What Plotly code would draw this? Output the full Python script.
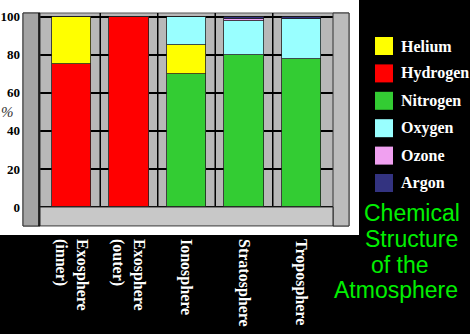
import plotly.graph_objects as go

# ---- data ----
categories = ["Exosphere<br>(inner)", "Exosphere<br>(outer)", "Ionosphere", "Stratosphere", "Troposphere"]
hydrogen = [75, 100, 0, 0, 0]
nitrogen = [0, 0, 70, 80, 78]
helium = [25, 0, 15, 0, 0]
oxygen = [0, 0, 15, 18, 21]
ozone = [0, 0, 0, 1, 0]
argon = [0, 0, 0, 1, 1]
y_ticks = [0, 20, 40, 60, 80, 100]
legend_names = ["Helium", "Hydrogen", "Nitrogen", "Oxygen", "Ozone", "Argon"]
title_lines = ["Chemical", "Structure", "of the", "Atmosphere"]

colors = {
    "Helium": "#ffff00",
    "Hydrogen": "#ff0000",
    "Nitrogen": "#33cc33",
    "Oxygen": "#99ffff",
    "Ozone": "#f0a0f0",
    "Argon": "#333380",
}

# ---- geometry helpers (pixel -> paper) ----
W, H = 470, 334
L, R, T, B = 23, 349, 13, 226


def px(x):
    return (x - L) / (R - L)


def py(y):
    return (B - y) / (B - T)


fig = go.Figure()
stack = [("Hydrogen", hydrogen), ("Nitrogen", nitrogen), ("Helium", helium),
         ("Oxygen", oxygen), ("Ozone", ozone), ("Argon", argon)]
for name, vals in stack:
    fig.add_trace(go.Bar(
        x=categories, y=vals, name=name,
        marker=dict(color=colors[name], line=dict(color="#202020", width=0.8)),
        width=0.68, showlegend=False,
    ))

shapes = [
    # black regions outside the white panel
    dict(type="rect", xref="paper", yref="paper", x0=px(359), x1=px(W + 5), y0=py(H + 5), y1=py(-5),
         fillcolor="black", line_width=0, layer="below"),
    dict(type="rect", xref="paper", yref="paper", x0=px(-5), x1=px(W + 5), y0=py(H + 5), y1=py(235),
         fillcolor="black", line_width=0, layer="below"),
    # back wall
    dict(type="rect", xref="paper", yref="paper", x0=0, x1=1, y0=0, y1=1,
         fillcolor="#b8b8b8", line=dict(color="#555555", width=1), layer="below"),
]
# category dividers on the back wall
for i in range(len(categories) - 1):
    shapes.append(dict(type="line", xref="x", yref="y", x0=i + 0.5, x1=i + 0.5, y0=0, y1=102,
                       line=dict(color="black", width=1.5), layer="below"))
shapes += [
    # left wall
    dict(type="rect", xref="paper", yref="paper", x0=0, x1=px(40), y0=0, y1=1,
         fillcolor="#a4a4a4", line=dict(color="#333333", width=1), layer="above"),
    dict(type="line", xref="paper", yref="y", x0=px(39), x1=px(39), y0=-10, y1=102,
         line=dict(color="black", width=1.5), layer="above"),
    # right wall
    dict(type="rect", xref="paper", yref="paper", x0=px(333), x1=1, y0=0, y1=1,
         fillcolor="#bcbcbc", line=dict(color="#333333", width=1), layer="above"),
    # floor
    dict(type="rect", xref="paper", yref="y", x0=px(40), x1=px(333), y0=-10, y1=0,
         fillcolor="#c8c8c8", line=dict(color="#222222", width=1), layer="above"),
]

annotations = []
# custom legend
for i, name in enumerate(legend_names):
    yc = 46 + i * 27.4
    shapes.append(dict(type="rect", xref="paper", yref="paper",
                       x0=px(375), x1=px(393), y0=py(yc + 9), y1=py(yc - 9),
                       fillcolor=colors[name], line_width=0))
    annotations.append(dict(x=px(399), y=py(yc), xref="paper", yref="paper", text=name,
                            showarrow=False, xanchor="left", yanchor="middle",
                            font=dict(family="Liberation Serif", size=16, color="white", weight="bold")))

# title lines
title_pos = [(412, 213), (411, 239), (400, 265), (396, 290)]
for line, (xc, yc) in zip(title_lines, title_pos):
    annotations.append(dict(x=px(xc), y=py(yc), xref="paper", yref="paper", text=line,
                            showarrow=False, xanchor="center", yanchor="middle",
                            font=dict(family="Liberation Sans", size=23, color="#00f000")))

# y-axis "%" label
annotations.append(dict(x=px(0), y=py(112), xref="paper", yref="paper", text="%",
                        showarrow=False, xanchor="left", yanchor="middle", borderpad=0,
                        font=dict(family="Liberation Serif", size=15, color="#333333", style="italic")))

fig.update_layout(
    width=W, height=H,
    margin=dict(l=L, r=W - R, t=T, b=H - B, autoexpand=False),
    paper_bgcolor="white",
    plot_bgcolor="rgba(0,0,0,0)",
    barmode="stack",
    bargap=0,
    shapes=shapes,
    annotations=annotations,
    xaxis=dict(
        range=[-0.843, 4.826], showgrid=False, automargin=False,
        ticks="", tickangle=90, ticklabelstandoff=12,
        tickfont=dict(family="Liberation Serif", size=16, color="white", weight="bold"),
        showline=False, zeroline=False,
    ),
    yaxis=dict(
        range=[-10, 102], tickvals=y_ticks, ticktext=[str(v) for v in y_ticks],
        showgrid=True, gridcolor="black", gridwidth=1.5, zeroline=False, automargin=False,
        ticks="", ticklabelstandoff=2,
        tickfont=dict(family="Liberation Serif", size=13, color="black", weight="bold"),
    ),
)

fig.write_html("out.html")
